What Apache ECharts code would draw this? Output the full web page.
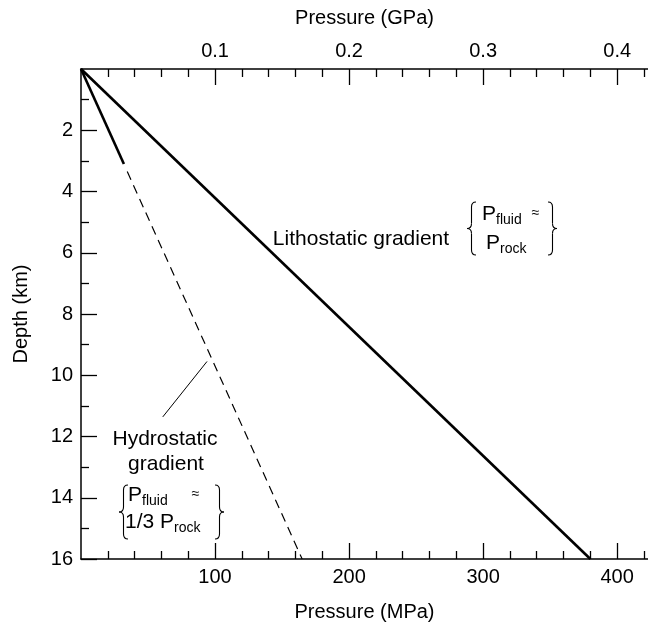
<!DOCTYPE html>
<html>
<head>
<meta charset="utf-8">
<script src="https://cdn.jsdelivr.net/npm/echarts@6/dist/echarts.min.js"></script>
<style>
  html, body { margin: 0; padding: 0; background: #fff; }
  #chart { width: 648px; height: 627px; }
</style>
</head>
<body>
<div id="chart"></div>
<script>
// tick values (MPa on the x axes, km on the depth axis)
var mpaMajor = [100, 200, 300, 400];
var mpaMinor = [20, 40, 60, 80, 120, 140, 160, 180, 220, 240, 260, 280, 320, 340, 360, 380, 420];
var depthMajor = [2, 4, 6, 8, 10, 12, 14, 16];
var depthMinor = [1, 3, 5, 7, 9, 11, 13, 15];

// [pressure MPa, depth km]
var lithostatic = [[0, 0], [380, 16]];
var hydroSolid = [[0, 0], [32, 3.1]];
var hydroDashed = [[34.5, 3.35], [165, 16]];
var hydroLeader = [[94, 9.55], [61, 11.36]];

var FONT = '"Liberation Sans", Arial, Helvetica, sans-serif';
var black = '#000';

var chart = echarts.init(document.getElementById('chart'));

var ctx = document.createElement('canvas').getContext('2d');
function textWidth(t, size) {
    ctx.font = size + 'px ' + FONT;
    return ctx.measureText(t).width;
}

function label(x, y, text, size, align) {
    return {
        type: 'text', x: x, y: y, silent: true,
        style: {text: text, fill: black, font: size + 'px ' + FONT, textAlign: align || 'left', verticalAlign: 'middle'}
    };
}

// pieces: [text, fontSize, dy, gapBefore]  -- laid out left to right from x
function textRun(x, y, pieces) {
    var out = [];
    var cx = x;
    pieces.forEach(function (p) {
        cx += p[3] || 0;
        out.push(label(cx, y + p[2], p[0], p[1]));
        cx += textWidth(p[0], p[1]);
    });
    return out;
}

// curly brace, tip at x, from y1 to y2; dir = 1 for "{", -1 for "}"
function brace(x, y1, y2, dir) {
    var w = 9 * dir, h = w / 2, r = 5, ym = (y1 + y2) / 2;
    var st = {fill: null, stroke: black, lineWidth: 1.1};
    function q(x1, yA, cx, cy, x2, yB) {
        return {type: 'bezierCurve', silent: true, shape: {x1: x1, y1: yA, cpx1: cx, cpy1: cy, x2: x2, y2: yB}, style: st};
    }
    function l(x1, yA, x2, yB) {
        return {type: 'line', silent: true, shape: {x1: x1, y1: yA, x2: x2, y2: yB}, style: st};
    }
    return [
        q(x + w, y1, x + h, y1, x + h, y1 + r),
        l(x + h, y1 + r, x + h, ym - r),
        q(x + h, ym - r, x + h, ym, x, ym),
        q(x, ym, x + h, ym, x + h, ym + r),
        l(x + h, ym + r, x + h, y2 - r),
        q(x + h, y2 - r, x + h, y2, x + w, y2)
    ];
}

var axisLineStyle = {color: black, width: 1.5};
var labelStyle = {color: black, fontSize: 20, fontFamily: FONT};

function xAxisPair(pos, fmt, name, gap) {
    return [{
        type: 'value', position: pos, min: 0, max: 423,
        name: name, nameLocation: 'middle', nameGap: gap,
        nameTextStyle: {color: black, fontSize: 20, fontFamily: FONT},
        axisLine: {onZero: false, lineStyle: axisLineStyle},
        axisTick: {inside: true, length: 16, customValues: mpaMajor, lineStyle: {color: black, width: 1.3}},
        axisLabel: Object.assign({customValues: mpaMajor, margin: 8, formatter: fmt}, labelStyle),
        splitLine: {show: false}
    }, {
        type: 'value', position: pos, min: 0, max: 423,
        axisLine: {show: false, onZero: false},
        axisTick: {inside: true, length: 8, customValues: mpaMinor, lineStyle: {color: black, width: 1.3}},
        axisLabel: {show: false},
        splitLine: {show: false}
    }];
}

var xAxes = xAxisPair('bottom', function (v) { return String(v); }, 'Pressure (MPa)', 43)
    .concat(xAxisPair('top', function (v) { return (v / 1000).toFixed(1); }, 'Pressure (GPa)', 41));

var yAxes = [{
    type: 'value', position: 'left', inverse: true, min: 0, max: 16,
    name: 'Depth (km)', nameLocation: 'middle', nameGap: 50, nameRotate: 90,
    nameTextStyle: {color: black, fontSize: 20, fontFamily: FONT},
    axisLine: {onZero: false, lineStyle: axisLineStyle},
    axisTick: {inside: true, length: 16, customValues: depthMajor, lineStyle: {color: black, width: 1.3}},
    axisLabel: Object.assign({customValues: depthMajor, margin: 8}, labelStyle),
    splitLine: {show: false}
}, {
    type: 'value', position: 'left', inverse: true, min: 0, max: 16,
    axisLine: {show: false, onZero: false},
    axisTick: {inside: true, length: 8, customValues: depthMinor, lineStyle: {color: black, width: 1.3}},
    axisLabel: {show: false},
    splitLine: {show: false}
}];

function lineSeries(data, width, type) {
    return {
        type: 'line', data: data, xAxisIndex: 0, yAxisIndex: 0,
        symbol: 'none', silent: true, animation: false,
        lineStyle: {color: black, width: width, type: type || 'solid'}
    };
}

var graphics = [].concat(
    [label(361, 239, 'Lithostatic gradient', 21, 'center')],
    brace(467, 202, 255, 1),
    brace(557, 202, 255, -1),
    textRun(482, 214, [['P', 21, 0], ['fluid', 14, 6], ['\u2248', 14, -1, 10]]),
    textRun(486, 243, [['P', 21, 0], ['rock', 14, 6]]),
    [label(165, 439, 'Hydrostatic', 21, 'center'), label(166, 464, 'gradient', 21, 'center')],
    brace(119, 485, 539, 1),
    brace(224, 485, 539, -1),
    textRun(128, 495, [['P', 21, 0], ['fluid', 14, 6], ['\u2248', 14, -1, 24]]),
    textRun(125, 522, [['1/3 P', 21, 0], ['rock', 14, 6]])
);

var option = {
    animation: false,
    grid: {left: 81, top: 69, right: 0, bottom: 64},
    xAxis: xAxes,
    yAxis: yAxes,
    series: [
        lineSeries(lithostatic, 2.6),
        lineSeries(hydroSolid, 2.6),
        lineSeries(hydroDashed, 1.2, [9, 6]),
        lineSeries(hydroLeader, 1)
    ],
    graphic: graphics
};

chart.setOption(option);
</script>
</body>
</html>
